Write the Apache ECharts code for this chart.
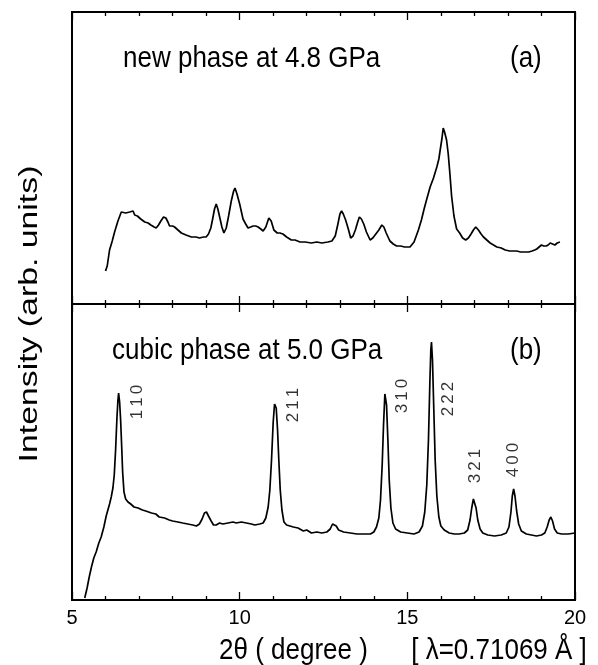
<!DOCTYPE html>
<html><head><meta charset="utf-8">
<script src="https://cdn.jsdelivr.net/npm/echarts@6/dist/echarts.min.js"></script>
<style>html,body{margin:0;padding:0;background:#fff}#c{width:598px;height:665px}</style>
</head><body><div id="c"></div><script>
// Panel (a): new phase at 4.8 GPa
const angleA = [6.00,6.05,6.12,6.20,6.27,6.37,6.47,6.52,6.60,6.65,6.72,6.82,6.87,6.95,7.05,7.17,7.27,7.35,7.45,7.51,7.58,7.65,7.73,7.80,7.86,7.91,8.00,8.06,8.16,8.26,8.40,8.56,8.70,8.80,8.92,9.00,9.07,9.14,9.20,9.25,9.30,9.35,9.41,9.47,9.53,9.60,9.67,9.75,9.82,9.86,9.92,10.00,10.10,10.18,10.25,10.33,10.40,10.48,10.55,10.63,10.70,10.78,10.87,10.94,11.02,11.12,11.20,11.29,11.40,11.54,11.65,11.80,11.95,12.14,12.30,12.45,12.63,12.75,12.85,12.93,12.99,13.04,13.09,13.16,13.24,13.31,13.38,13.45,13.52,13.57,13.63,13.70,13.78,13.89,13.97,14.06,14.15,14.24,14.30,14.37,14.48,14.58,14.68,14.80,14.92,15.08,15.20,15.33,15.42,15.50,15.58,15.68,15.78,15.88,15.94,15.98,16.03,16.07,16.11,16.17,16.22,16.27,16.32,16.39,16.47,16.56,16.65,16.74,16.82,16.90,16.97,17.04,17.12,17.20,17.27,17.37,17.47,17.57,17.67,17.80,17.92,18.05,18.15,18.26,18.38,18.51,18.62,18.72,18.80,18.86,18.93,19.00,19.07,19.14,19.20,19.26,19.33,19.40,19.47,19.55];
const intensityA = [33,38,54,63,72,83,92,93,91,93,92,93,89,88,85,82,81,79,77,76,79,83,87,86,82,78,78,77,74,71,69,67,67,66,67,67,70,76,86,95,100,95,86,77,71,76,88,103,113,116,110,100,85,80,76,77,78,78,77,75,73,77,86,83,74,71,71,70,67,64,64,62,62,61,62,61,62,63,68,80,90,93,90,84,75,66,68,74,82,87,85,80,72,64,66,70,74,79,77,71,63,60,58,58,57,57,62,74,84,95,105,117,126,137,145,154,165,176,172,164,150,130,108,88,75,71,66,64,66,70,74,77,74,70,67,64,61,59,57,56,54,53,53,53,52,52,52,53,54,55,57,59,58,58,59,61,60,59,61,62,64,66,71];

// Panel (b): cubic phase at 5.0 GPa
const angleB = [5.38,5.45,5.52,5.58,5.65,5.72,5.80,5.87,5.95,6.02,6.07,6.12,6.17,6.22,6.26,6.30,6.34,6.37,6.39,6.42,6.45,6.48,6.51,6.55,6.60,6.67,6.75,6.85,6.97,7.10,7.20,7.37,7.50,7.60,7.76,7.90,8.00,8.16,8.30,8.45,8.60,8.71,8.80,8.88,8.95,9.01,9.07,9.15,9.22,9.30,9.40,9.50,9.65,9.80,9.90,10.05,10.20,10.35,10.45,10.60,10.70,10.78,10.85,10.90,10.95,11.00,11.04,11.06,11.09,11.13,11.17,11.21,11.26,11.32,11.40,11.50,11.60,11.74,11.90,12.00,12.14,12.30,12.45,12.60,12.70,12.77,12.82,12.88,12.95,13.10,13.30,13.50,13.70,13.90,14.00,14.08,14.15,14.20,14.25,14.29,14.33,14.35,14.38,14.42,14.46,14.51,14.57,14.65,14.80,15.00,15.20,15.35,15.45,15.52,15.58,15.63,15.67,15.70,15.72,15.75,15.79,15.83,15.88,15.94,16.00,16.10,16.25,16.40,16.55,16.70,16.80,16.87,16.92,16.97,17.00,17.05,17.10,17.17,17.25,17.40,17.60,17.80,17.95,18.03,18.09,18.13,18.17,18.21,18.26,18.32,18.40,18.55,18.70,18.85,19.00,19.10,19.17,19.23,19.28,19.33,19.39,19.47,19.60,19.80,20.00];
const intensityB = [2,12,24,33,42,48,57,63,73,84,90,96,103,112,125,150,182,200,207,198,180,155,128,108,101,98,96,93,92,90,89,87,86,83,82,80,79,78,77,76,75,74,76,81,87,88,84,79,75,75,77,76,77,78,77,78,77,76,75,76,77,82,93,110,140,178,196,198,192,170,138,110,90,78,75,74,73,72,69,70,67,68,67,68,71,76,78,74,70,68,67,66,66,66,68,73,82,100,135,175,206,208,195,160,120,92,77,71,68,67,66,68,74,88,115,160,215,250,258,240,190,140,104,83,74,70,67,66,66,67,70,80,92,101,100,92,80,71,67,65,64,65,67,73,88,104,111,104,89,76,69,66,65,64,65,67,73,80,83,79,71,67,66,66,67];

// Miller-index labels (b)
const peakLabels = ['110','211','310','222','321','400'];
const peakLabelX = [6.94,11.59,14.84,16.21,17.02,18.15];
const peakLabelY = [198,195,204,201,134,140];

const xMin = 5, xMax = 20, xStep = 5;

const chart = echarts.init(document.getElementById('c'), null, {renderer:'canvas'});
const F = '"Liberation Sans", Arial, Helvetica, sans-serif';

function xAxisCfg(gridIndex, position, showLabel){
  return {
    type:'value', gridIndex, position, min:xMin, max:xMax, interval:xStep,
    axisLine:{show:false}, splitLine:{show:false},
    axisTick:{show:true, inside:true, length:8, lineStyle:{color:'#000', width:1.3}},
    minorTick:{show:true, splitNumber:5, length:4, lineStyle:{color:'#000', width:1.3}},
    axisLabel:{show:showLabel, color:'#000', fontSize:20, fontFamily:F, margin:8}
  };
}

function txt(text, x, y, size, sy, align){
  return {type:'text', x, y, scaleY:sy,
    style:{text, fontSize:size, fontFamily:F, fill:'#000',
      textAlign:align||'left', align:align||'left', textVerticalAlign:'middle', verticalAlign:'middle'}};
}

const option = {
  animation:false,
  backgroundColor:'#fff',
  grid:[
    {left:72, right:23, top:12, height:292, show:true, borderColor:'#000', borderWidth:2, backgroundColor:'transparent'},
    {left:72, right:23, top:304, height:296, show:true, borderColor:'#000', borderWidth:2, backgroundColor:'transparent'}
  ],
  xAxis:[ xAxisCfg(0,'bottom',false), xAxisCfg(0,'top',false), xAxisCfg(1,'bottom',true), xAxisCfg(1,'top',false) ],
  yAxis:[
    {type:'value', gridIndex:0, min:0, max:292, show:false},
    {type:'value', gridIndex:1, min:0, max:296, show:false}
  ],
  series:[
    {type:'line', xAxisIndex:0, yAxisIndex:0, symbol:'none', silent:true,
     lineStyle:{color:'#000', width:1.7}, data: angleA.map((x,i)=>[x,intensityA[i]])},
    {type:'line', xAxisIndex:2, yAxisIndex:1, symbol:'none', silent:true,
     lineStyle:{color:'#000', width:1.7}, data: angleB.map((x,i)=>[x,intensityB[i]])},
    {type:'scatter', xAxisIndex:2, yAxisIndex:1, symbolSize:0, silent:true,
     label:{show:true, position:'inside', rotate:90, color:'#000',
       formatter: p => p.name.split('').map(c => '{d|' + c + '}').join(''),
       rich:{d:{fontSize:17, fontFamily:F, color:'#000', padding:[0,1.5,0,1.5]}}},
     data: peakLabels.map((t,i)=>({name:t, value:[peakLabelX[i], peakLabelY[i]]}))}
  ],
  graphic:[
    txt('new phase at 4.8 GPa', 123, 59, 26, 1.15),
    txt('(a)', 510, 59, 26, 1.15),
    txt('cubic phase at 5.0 GPa', 112, 351, 26, 1.15),
    txt('(b)', 510, 351, 26, 1.15),
    {type:'text', x:30, y:314, rotation:Math.PI/2, scaleX:1.3,
     style:{text:'Intensity (arb. units)', fontSize:26, fontFamily:F, fill:'#000', textAlign:'center', textVerticalAlign:'middle', align:'center', verticalAlign:'middle'}},
    txt('2θ ( degree )      [ λ=0.71069 Å ]', 219, 651, 26, 1.1)
  ]
};
chart.setOption(option);
</script></body></html>
